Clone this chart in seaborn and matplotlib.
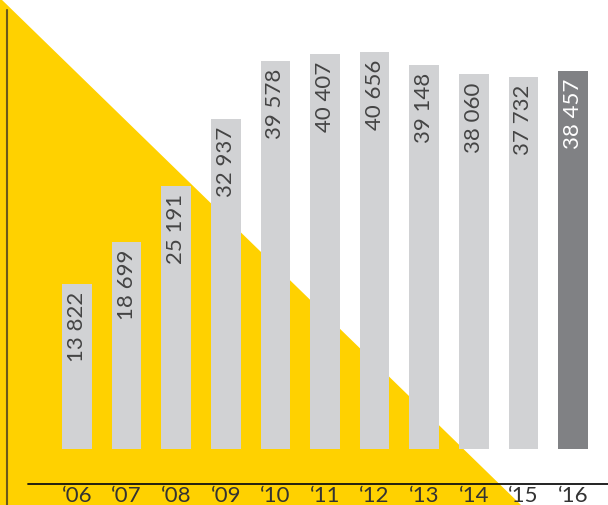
import matplotlib
matplotlib.use('Agg')
import matplotlib.pyplot as plt
import seaborn as sns
import pandas as pd
from matplotlib.patches import Polygon

# data
years = ['\u201806', '\u201807', '\u201808', '\u201809', '\u201810', '\u201811',
         '\u201812', '\u201813', '\u201814', '\u201815', '\u201816']
values = [13822, 18699, 25191, 32937, 39578, 40407, 40656, 39148, 38060, 37732, 38457]
labels = ['13 822', '18 699', '25 191', '32 937', '39 578', '40 407',
          '40 656', '39 148', '38 060', '37 732', '38 457']
highlight = '\u201816'

df = pd.DataFrame({'year': years, 'value': values})
base = -5260  # bars start below zero as in the original

sns.set_theme(style='white')
plt.rcParams['font.family'] = ['Lato', 'DejaVu Sans']

fig = plt.figure(figsize=(6.08, 5.05), dpi=100)
ax = fig.add_axes([0, 0, 1, 1])

# yellow triangle in the background
tri = Polygon([(0, 1.004), (0, 0), (0.857, 0)], closed=True,
              transform=ax.transAxes, facecolor='#ffd100', edgecolor='none', zorder=0)
ax.add_patch(tri)

palette = {y: ('#808184' if y == highlight else '#d1d2d4') for y in years}
sns.barplot(data=df, x='year', y=[v - base for v in values], hue='year', palette=palette,
            width=0.6, bottom=base, legend=False, ax=ax, zorder=2, saturation=1,
            linewidth=0, edgecolor='none')

for i, (v, lab, y) in enumerate(zip(values, labels, years)):
    ax.text(i, v - 900, lab, rotation=90, ha='center', va='top', fontsize=16,
            fontweight='normal', color='white' if y == highlight else '#444444', zorder=3)

ax.set_xlim(-1.552, 10.706)
ax.set_ylim(-11740, 46670)
ax.axis('off')

# axis lines
ax.plot([0.012, 0.012], [0, 0.98], transform=ax.transAxes, color='#6b5a1a', lw=1.5, zorder=4)
ax.plot([0.046, 1.0], [0.042, 0.042], transform=ax.transAxes, color='#111111', lw=1.3, zorder=4)

# year tick labels
for i, y in enumerate(years):
    ax.text(i, 0.005, y, transform=ax.get_xaxis_transform(), ha='center', va='baseline',
            fontsize=16, fontweight='normal', color='#333333', zorder=4)

fig.savefig('out.png', dpi=100)
plt.close(fig)
